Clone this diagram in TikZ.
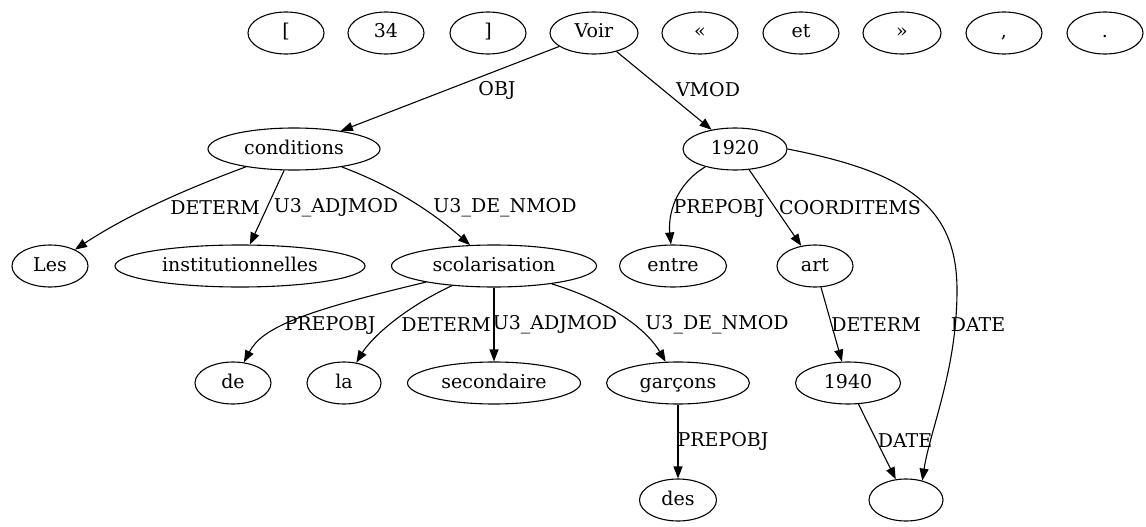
\documentclass[tikz,border=0pt]{standalone}
\usepackage{fontspec}
\setmainfont{DejaVu Serif}
\usetikzlibrary{shapes.geometric,arrows.meta}
\tikzset{tok/.style={draw,ellipse,inner sep=0pt,text height=14pt,text depth=4pt,
    minimum height=42pt,minimum width=#1},
  tok/.default=76pt,
  rel/.style={inner sep=0pt},
  dep/.style={-{Triangle[length=12pt,width=9pt]}}}
\begin{document}
\begin{tikzpicture}[x=1pt,y=-1pt,line width=1.1pt,font=\fontsize{19}{22}\selectfont]
\useasboundingbox(0,0)rectangle(1146,527);
% tokens without head
\node[tok](lb)at(286,33){[};
\node[tok](n34)at(386,33){34};
\node[tok](rb)at(488,33){]};
\node[tok=88pt](voir)at(594,33){Voir};
\node[tok](lq)at(700,33){«};
\node[tok](et)at(801,33){et};
\node[tok=78pt](rq)at(902,33){»};
\node[tok](comma)at(1004,33){,};
\node[tok](dot)at(1105,33){.};
% dependents
\node[tok=172pt](cond)at(294,149){conditions};
\node[tok=104pt](y1920)at(735,149){1920};
\node[tok](les)at(50,266){Les};
\node[tok=250pt](inst)at(240,266){institutionnelles};
\node[tok=205pt](scol)at(494,266){scolarisation};
\node[tok=107pt](entre)at(673,266){entre};
\node[tok](art)at(815,266){art};
\node[tok](de)at(233,383){de};
\node[tok=74pt](la)at(344,383){la};
\node[tok=173pt](sec)at(494,383){secondaire};
\node[tok=143pt](garc)at(678,383){garçons};
\node[tok=105pt](y1940)at(848,383){1940};
\node[tok=77pt](des)at(678,500){des};
\node[tok=74pt](empty)at(906,500){};
% arcs
\draw[dep](voir)--(cond);
\draw[dep](voir)--(y1920);
\draw[dep](cond)..controls(170,195)and(120,220)..(les);
\draw[dep](cond)--(inst);
\draw[dep](cond)..controls(390,185)and(430,210)..(scol);
\draw[dep](scol)..controls(300,312)and(262,328)..(de);
\draw[dep](scol)..controls(400,310)and(370,340)..(la);
\draw[dep](scol)--(sec);
\draw[dep](scol)..controls(620,305)and(650,335)..(garc);
\draw[dep](garc)--(des);
\draw[dep](y1920)..controls(675,185)and(668,215)..(entre);
\draw[dep](y1920)--(art);
\draw[dep](y1920.east)..controls(905,172)and(957,205)..(957,290)
  ..controls(957,370)and(930,430)..(empty.50);
\draw[dep](art)--(y1940);
\draw[dep](y1940)--(empty);
% labels
\node[rel](lobj)at(497,90){OBJ};
\node[rel](lvmod)at(708,90){VMOD};
\node[rel](ldet1)at(215,208){DETERM};
\node[rel](ladj1)at(336,208){U3\_ADJMOD};
\node[rel](lnmod1)at(505,208){U3\_DE\_NMOD};
\node[rel](lprep1)at(719,208){PREPOBJ};
\node[rel](lcoord)at(850,208){COORDITEMS};
\node[rel](lprep2)at(330,325){PREPOBJ};
\node[rel](ldet2)at(446,325){DETERM};
\node[rel](ladj2)at(555,325){U3\_ADJMOD};
\node[rel](lnmod2)at(717,325){U3\_DE\_NMOD};
\node[rel](ldet3)at(876,325){DETERM};
\node[rel](ldate1)at(978,325){DATE};
\node[rel](lprep3)at(723,441){PREPOBJ};
\node[rel](ldate2)at(905,441){DATE};
\end{tikzpicture}
\end{document}
